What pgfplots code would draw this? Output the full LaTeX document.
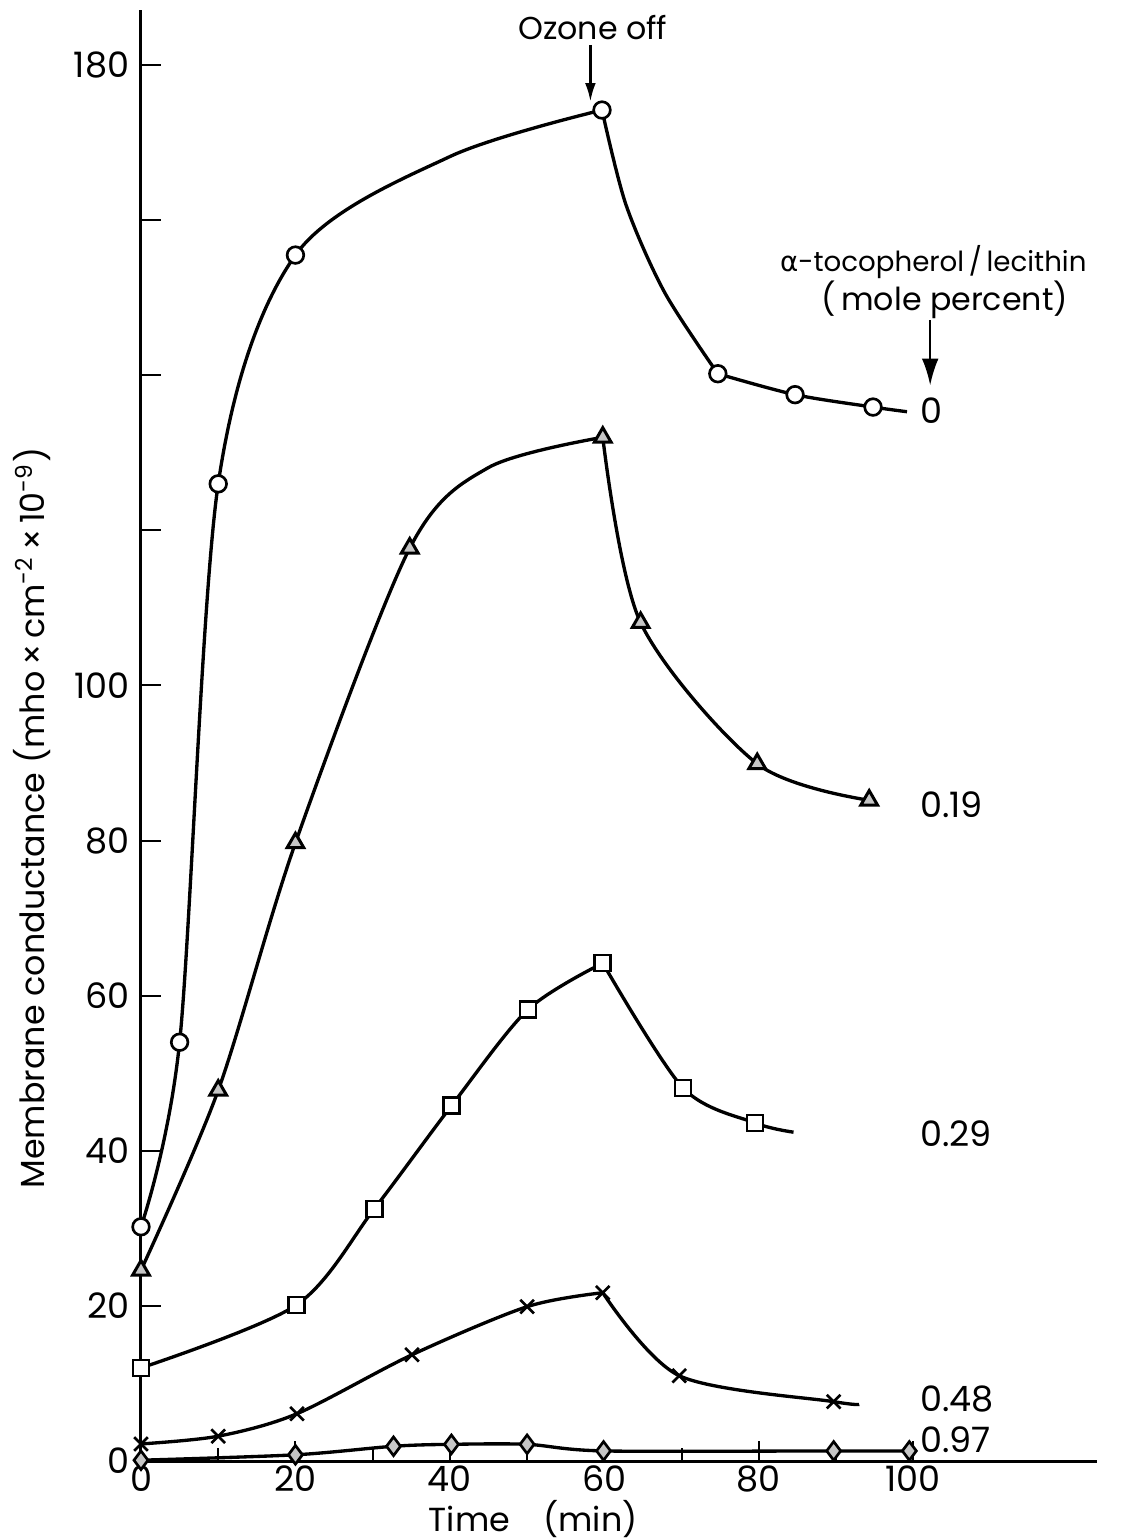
\documentclass[border=0pt]{standalone}
\usepackage{pgfplots}
\pgfplotsset{compat=1.18}
\usetikzlibrary{arrows.meta}
\usepackage{fontspec}
\setmainfont{Poppins}
\newfontfamily\dejavu{DejaVu Sans}

\begin{document}
\begin{tikzpicture}
\useasboundingbox (-42.3pt,-23.4pt) rectangle (298.8pt,438.3pt);
\begin{axis}[
  at={(0pt,0pt)}, anchor=south west,
  scale only axis, width=286.8pt, height=435.3pt,
  xmin=0, xmax=123.8, ymin=0, ymax=187.1,
  axis lines=left, axis line style={-, line width=0.9pt},
  clip=false,
  xtick={0,20,...,100}, minor xtick={10,30,...,90},
  ytick={0,20,...,180},
  yticklabels={0,20,40,60,80,100,,,,180},
  tick align=inside,
  major tick length=6pt, minor tick length=4pt,
  tick style={line width=0.6pt, black},
  /pgf/number format/assume math mode=true,
  ticklabel style={font=\fontsize{10.5}{12}\selectfont},
  xticklabel style={yshift=2pt},
]
% ---- lines ----
\addplot[line width=1pt, smooth, no marks] coordinates {(0,30.2) (5,54) (10,126) (20,155.5) (40,168.2) (59.7,174.2)};
\addplot[line width=1pt, smooth, no marks] coordinates {(59.7,174.2) (62.8,162.0) (67.8,150.7) (74.7,140.2)};
\addplot[line width=1pt, smooth, no marks] coordinates {(74.7,140.2) (84.7,137.5) (94.8,135.9) (99.2,135.3)};
\addplot[line width=1pt, smooth, no marks] coordinates {(0,24.6) (10,47.8) (20,79.7) (34.8,117.7) (45,128.1) (59.8,132)};
\addplot[line width=1pt, smooth, no marks] coordinates {(59.8,132) (64.7,108.1) (79.8,89.9) (94.3,85.2)};
\addplot[line width=1pt, smooth, no marks] coordinates {(0,12) (20.1,20.1) (30.2,32.5) (40.2,45.8) (50.1,58.2) (59.8,64.2)};
\addplot[line width=1pt, smooth, no marks] coordinates {(59.8,64.2) (70.2,48.1) (79.5,43.6) (84.5,42.4)};
\addplot[line width=1pt, smooth, no marks] coordinates {(0,2.2) (10,3.2) (20.2,6.1) (35.1,13.7) (50,19.9) (59.8,21.7)};
\addplot[line width=1pt, smooth, no marks] coordinates {(59.8,21.7) (69.7,11.0) (89.7,7.65) (93,7.3)};
\addplot[line width=1pt, smooth, no marks] coordinates {(0,0.1) (20,0.8) (32.7,1.9) (40.2,2.15) (50,2.15) (59.9,1.3) (89.7,1.3) (99.5,1.3)};
% ---- marks ----
\addplot[only marks, mark=*, mark size=2.5pt, mark options={fill=white, draw=black, line width=0.8pt}] coordinates {(0,30.2) (5,54) (10,126) (20,155.5) (59.7,174.2) (74.7,140.2) (84.7,137.5) (94.8,135.9)};
\addplot[only marks, mark=triangle*, mark size=2.9pt, mark options={fill=gray!45, draw=black, line width=0.9pt}] coordinates {(0,24.6) (10,47.8) (20,79.7) (34.8,117.7) (59.8,132) (64.7,108.1) (79.8,89.9) (94.3,85.2)};
\addplot[only marks, mark=square*, mark size=2.4pt, mark options={fill=white, draw=black, line width=0.8pt}] coordinates {(0,12) (20.1,20.1) (30.2,32.5) (40.2,45.8) (50.1,58.2) (59.8,64.2) (70.2,48.1) (79.5,43.6)};
\addplot[only marks, mark=x, mark size=2.9pt, mark options={draw=black, line width=0.8pt}] coordinates {(0,2.2) (10,3.2) (20.2,6.1) (35.1,13.7) (50,19.9) (59.8,21.7) (69.7,11.0) (89.7,7.65)};
\addplot[only marks, mark=diamond*, mark size=2.8pt, mark options={fill=gray!45, draw=black, line width=0.8pt}] coordinates {(0,0.1) (20,0.8) (32.7,1.9) (40.2,2.15) (50,2.15) (59.9,1.3) (89.7,1.3) (99.5,1.3)};
% ---- annotations ----
\node[font=\fontsize{9.5}{11}\selectfont] at (axis cs:58.5,184.9) {Ozone off};
\draw[line width=0.7pt, -{Latex[length=5.5pt,width=3.2pt]}] (axis cs:58.2,182.6) -- (axis cs:58.2,175.3);
\node[font=\fontsize{8.3}{10}\selectfont] at (axis cs:102.6,154.6) {{\dejavu α}-tocopherol\,/\,lecithin};
\node[font=\fontsize{9.5}{11}\selectfont] at (axis cs:104.1,149.7) {(\,mole percent)};
\draw[line width=0.7pt, -{Latex[length=8pt,width=5pt]}] (axis cs:102.2,147.1) -- (axis cs:102.2,138.7);
\node[anchor=west, font=\fontsize{10.5}{12}\selectfont] at (axis cs:99.4,135.5) {0};
\node[anchor=west, font=\fontsize{10.5}{12}\selectfont] at (axis cs:99.4,84.6) {0.19};
\node[anchor=west, font=\fontsize{10.5}{12}\selectfont] at (axis cs:99.4,42.2) {0.29};
\node[anchor=west, font=\fontsize{10.5}{12}\selectfont] at (axis cs:99.4,8.0) {0.48};
\node[anchor=west, font=\fontsize{10.5}{12}\selectfont] at (axis cs:99.4,2.7) {0.97};
\node[font=\fontsize{10}{12}\selectfont] at ([yshift=-17.5pt]axis cs:50.8,0) {Time\quad(min)};
\node[rotate=90, font=\fontsize{10}{12}\selectfont] at ([xshift=-32.7pt]axis cs:0,82.9) {Membrane conductance (mho\,×\,cm\textsuperscript{-2}\,×\,10\textsuperscript{-9})};
\end{axis}
\end{tikzpicture}
\end{document}
